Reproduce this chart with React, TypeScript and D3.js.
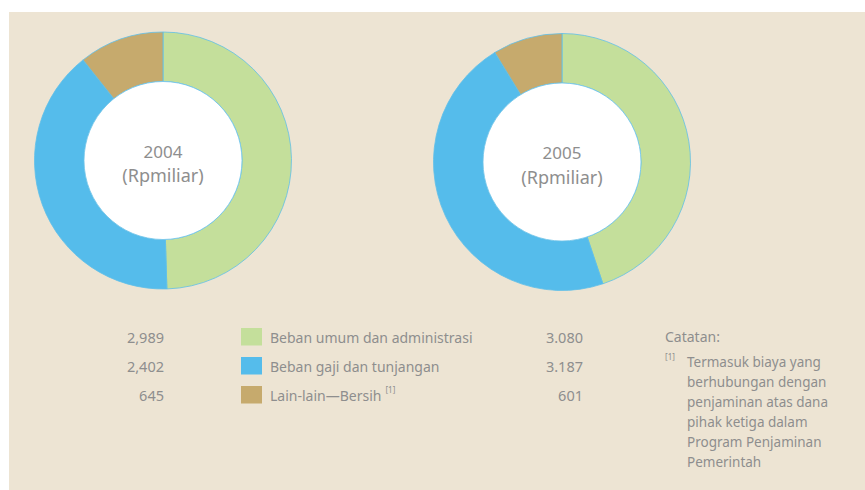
import React from "react";
import * as d3 from "d3";

const categories = ["Beban umum dan administrasi", "Beban gaji dan tunjangan", "Lain-lain—Bersih"];
const years = ["2004", "2005"];
const values2004 = [2989, 2402, 645];
const values2005 = [3080, 3187, 601];
const labels2004 = ["2,989", "2,402", "645"];
const labels2005 = ["3.080", "3.187", "601"];
const noteTitle = "Catatan:";
const noteLines = ["Termasuk biaya yang", "berhubungan dengan", "penjaminan atas dana", "pihak ketiga dalam", "Program Penjaminan", "Pemerintah"];

const colors = ["#c4df9b", "#55bceb", "#c6aa6d"];
const textColor = "#8e8e8e";
const FONT = "'Noto Sans', sans-serif";

const W = 865;
const H = 490;

function Donut({ cx, cy, values, year }: { cx: number; cy: number; values: number[]; year: string }) {
  const pie = d3.pie<number>().sort(null).value((d) => d);
  const arcs = pie(values);
  const arc = d3.arc<d3.PieArcDatum<number>>().innerRadius(79).outerRadius(128.5);
  return (
    <g transform={`translate(${cx},${cy})`}>
      {arcs.map((a, i) => (
        <path key={i} d={arc(a) || ""} fill={colors[i]} stroke="#5fbfe9" strokeWidth={0.8} />
      ))}
      <circle r={79} fill="#ffffff" stroke="#6cc3ea" strokeWidth={0.8} />
      <text x={0} y={-3} textAnchor="middle" fill={textColor} fontFamily={FONT} fontSize={17}>
        {year}
      </text>
      <text x={0} y={21.5} textAnchor="middle" fill={textColor} fontFamily={FONT} fontSize={18}>
        (Rpmiliar)
      </text>
    </g>
  );
}

export default function App() {
  const rowY = [343, 372, 401];
  return (
    <svg width={W} height={H} style={{ position: "absolute", left: 0, top: 0 }}>
      <rect x={0} y={0} width={W} height={H} fill="#ffffff" />
      <rect x={9} y={12} width={W - 9} height={H - 12} fill="#ede4d3" />
      <Donut cx={163} cy={160.5} values={values2004} year={years[0]} />
      <Donut cx={562} cy={162} values={values2005} year={years[1]} />
      <g fontFamily={FONT} fill={textColor}>
        {categories.map((c, i) => (
          <g key={c}>
            <text x={164} y={rowY[i]} textAnchor="end" fontSize={14.5}>{labels2004[i]}</text>
            <rect x={241} y={rowY[i] - 15} width={21} height={17.5} fill={colors[i]} />
            <text x={270} y={rowY[i] - 0.5} fontSize={14}>
              {c}
              {i === 2 ? <tspan fontSize={8} dx={4} dy={-8}>[1]</tspan> : null}
            </text>
            <text x={583} y={rowY[i]} textAnchor="end" fontSize={14.5}>{labels2005[i]}</text>
          </g>
        ))}
        <text x={665} y={342} fontSize={14}>{noteTitle}</text>
        <text x={665} y={360} fontSize={8}>[1]</text>
        {noteLines.map((l, i) => (
          <text key={l} x={687} y={367 + i * 20} fontSize={13.5}>{l}</text>
        ))}
      </g>
    </svg>
  );
}
